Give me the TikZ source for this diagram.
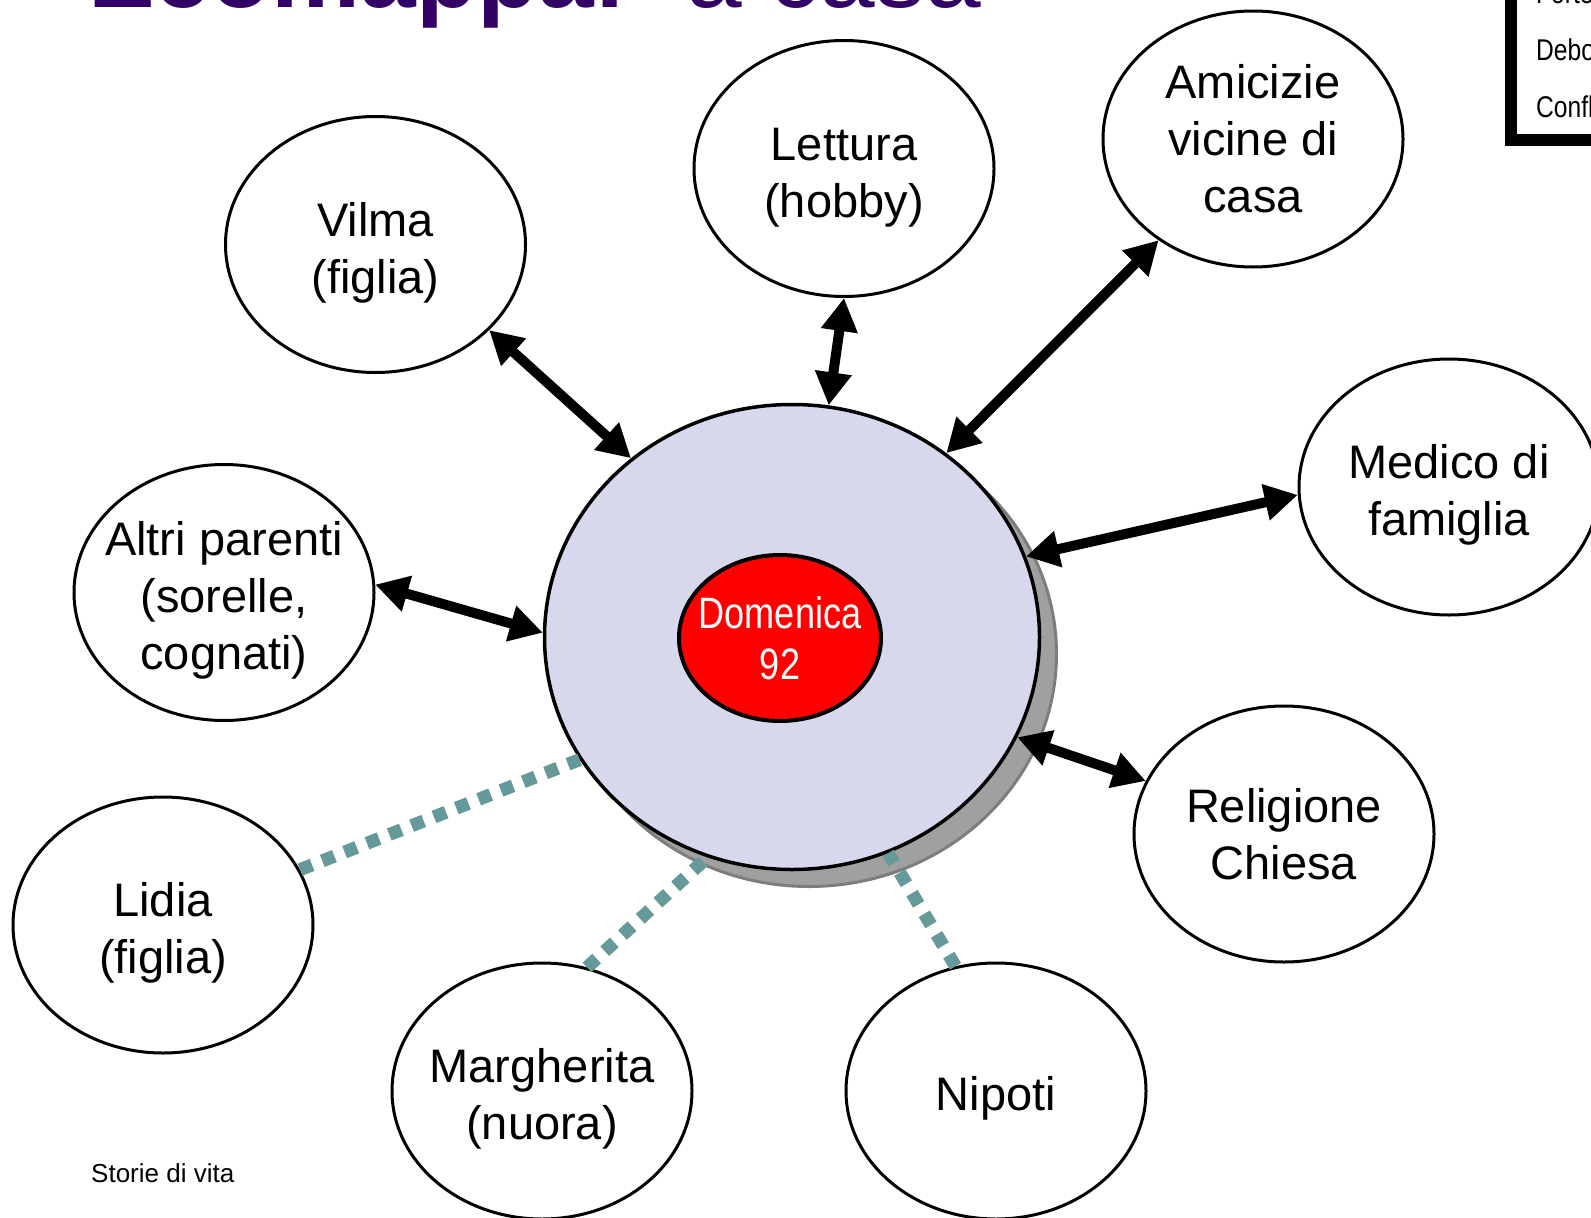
\documentclass[tikz,border=0pt]{standalone}
\usepackage{graphicx,color}
\usepackage{fontspec}
\setmainfont{Liberation Sans}
\usepackage{tikz}
\usetikzlibrary{arrows.meta,shapes.geometric,shadows}
\definecolor{viola}{RGB}{51,0,102}
\definecolor{lilla}{RGB}{215,216,235}
\definecolor{ombra}{RGB}{160,160,160}
\definecolor{bordoombra}{RGB}{125,125,125}
\definecolor{verdeacqua}{RGB}{102,153,153}
\newcommand{\stretto}[1]{\scalebox{0.82}[1]{#1}}
\newcommand{\riga}{\rule[-11pt]{0pt}{61pt}}

\begin{document}
\begin{tikzpicture}[line cap=round,line join=round,>={Triangle[length=33pt,width=35pt]},x=1pt,y=1pt,
bolla/.style={ellipse,draw=black,line width=3pt,fill=white,minimum width=300pt,minimum height=256pt,inner xsep=-40pt,inner ysep=0pt,align=center,font=\fontsize{47}{57}\selectfont},
legame/.style={<->,line width=10pt,color=black,line cap=butt},
debole/.style={line width=13pt,color=verdeacqua,line cap=butt,dash pattern=on 13pt off 11pt}]
\useasboundingbox (0,0) rectangle (1591,-1218);
\clip (0,0) rectangle (1591,-1218);
\node[anchor=base west,inner sep=0pt,text=viola,font=\fontsize{100}{100}\selectfont\bfseries] (titolo) at (88,-7.5) {Ecomappa:};
\node[anchor=base west,inner sep=0pt,text=viola,font=\fontsize{100}{100}\selectfont] (sottotitolo) at (686,-7.5) {a casa};
\draw[line width=12pt,line cap=butt,line join=miter,color=black] (1510.5,20) -- (1510.5,-140) -- (1620,-140);
\foreach \t/\y in {Forte/3,Debole/60,Conflittuale/117}
\node[anchor=base west,inner sep=0pt,font=\fontsize{30}{30}\selectfont] (voce-\y) at (1536,-\y) {\stretto{\t}};
\node[ellipse,draw=black,line width=3.5pt,fill=lilla,minimum width=495pt,minimum height=465pt,drop shadow={shadow xshift=17pt,shadow yshift=-17pt,fill=ombra,draw=bordoombra,line width=3pt,opacity=1}] (centro) at (792,-637) {};
\node[ellipse,draw=black,line width=4pt,fill=red,minimum width=202pt,minimum height=166pt,inner xsep=-30pt,inner ysep=0pt,align=center,text=white,font=\fontsize{44}{51}\selectfont] (domenica) at (780,-638) {\stretto{Domenica}\\\stretto{92}};
\node[bolla] (vilma) at (375.5,-244.5) {\riga Vilma\\(figlia)};
\node[bolla] (lettura) at (844,-168.5) {\riga Lettura\\(hobby)};
\node[bolla] (amicizie) at (1253,-139) {Amicizie\\vicine di\\casa};
\node[bolla] (medico) at (1449,-487) {\riga Medico di\\famiglia};
\node[bolla] (parenti) at (224,-592.5) {\riga Altri parenti\\(sorelle,\\cognati)};
\node[bolla] (religione) at (1284,-834) {Religione\\Chiesa};
\node[bolla] (lidia) at (163,-925) {\riga Lidia\\(figlia)};
\node[bolla] (margherita) at (542,-1091) {\riga Margherita\\(nuora)};
\node[bolla] (nipoti) at (996,-1091) {\riga Nipoti};
\foreach \n/\a/\b in {vilma/-37/132,lettura/-90/81,amicizie/-133/50,medico/183/19,parenti/3/179,religione/159/-24}
\draw[legame] (\n.\a) -- (centro.\b);
\foreach \n/\a/\b in {lidia/22/-150,margherita/70/-111,nipoti/108/-66}
\draw[debole] (\n.\a) -- (centro.\b);
\node[anchor=base west,inner sep=0pt,font=\fontsize{26}{26}\selectfont] (piede) at (91,-1182) {Storie di vita};
\end{tikzpicture}
\end{document}
